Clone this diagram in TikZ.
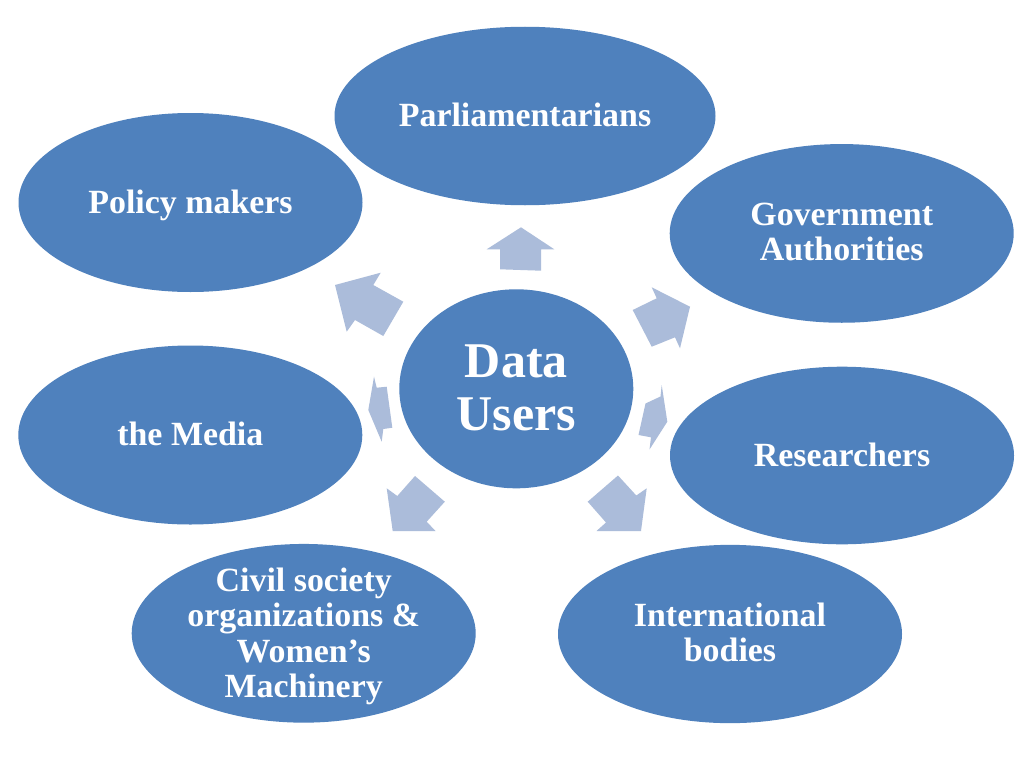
\documentclass[tikz,border=0pt]{standalone}
\usepackage{fontspec}
\setmainfont{Liberation Serif}
\usetikzlibrary{shapes.geometric}
\definecolor{ellblue}{HTML}{4F81BD}
\definecolor{arrblue}{HTML}{ABBCDA}
\begin{document}
\begin{tikzpicture}[x=1pt,y=-1pt,
  ell/.style={ellipse,fill=ellblue,draw=none,inner sep=0pt,outer sep=0pt},
  outer/.style={ell,minimum width=344pt,minimum height=179pt},
  lbl/.style={text=white,font=\bfseries\fontsize{33.9}{35.2}\selectfont,align=center,anchor=base,inner sep=0pt},
  bigl/.style={text=white,font=\bfseries\fontsize{50}{53.3}\selectfont,align=center,anchor=base,inner sep=0pt},
  arr/.style={fill=arrblue,draw=none}]
\useasboundingbox (0,0) rectangle (1024,768);
\fill[white] (0,0) rectangle (1024,768);
% arrows
\fill[arr] (521,227.3) -- (554.3,249.3) -- (541,249.3) -- (541,270.7) -- (500,269.3) -- (500,249.3) -- (486.7,249.3) -- cycle;
\fill[arr] (335,285) -- (380.7,272.7) -- (373.3,285) -- (403.3,301.7) -- (383.3,336) -- (355,320) -- (346.7,331.7) -- cycle;
\fill[arr] (651.7,287.3) -- (690,306.7) -- (680,348.3) -- (675,337.3) -- (651.7,346.7) -- (632.7,310) -- (656.7,298.3) -- cycle;
\fill[arr] (374,376.7) -- (376.7,387.7) -- (386.7,386.7) -- (392.3,427.7) -- (383.3,429) -- (381.7,441.7) -- (368.3,410) -- cycle;
\fill[arr] (661.7,385) -- (667.3,421.7) -- (649.5,449.5) -- (651,437.3) -- (638.5,435) -- (645.5,403.5) -- (660.5,396.5) -- cycle;
\fill[arr] (386.7,488.3) -- (397.3,496) -- (415,476) -- (444.8,501.7) -- (426.7,521.7) -- (435.5,531) -- (392.7,531) -- cycle;
\fill[arr] (646.7,488.3) -- (636.3,495.5) -- (618,475.5) -- (587.7,501.7) -- (606,522.5) -- (596.5,531) -- (641,531) -- cycle;
% ellipses
\node[ell,minimum width=381pt,minimum height=178.5pt] (parl) at (525,116) {};
\node[outer] (pm) at (190.5,202.5) {};
\node[outer,minimum height=178.7pt] (gov) at (841.7,233.4) {};
\node[outer] (med) at (190.3,435) {};
\node[outer,minimum height=177.6pt] (res) at (842,455.5) {};
\node[outer,minimum width=344pt,minimum height=178.7pt] (civ) at (303.7,633.3) {};
\node[outer,minimum height=178.3pt] (intl) at (730,634) {};
\node[ell,minimum width=234pt,minimum height=199pt] (du) at (516.3,388.8) {};
% labels (base = baseline of the last line)
\node[lbl] (tparl) at (525,126.7) {Parliamentarians};
\node[lbl] (tpm) at (190.5,213) {Policy makers};
\node[lbl] (tgov) at (841.7,260.7) {Government\\Authorities};
\node[lbl] (tmed) at (190.3,445) {the Media};
\node[lbl] (tres) at (842,466) {Researchers};
\node[lbl] (tciv) at (303.7,697.3) {Civil society\\organizations \&\\Women’s\\Machinery};
\node[lbl] (tintl) at (730,661.7) {International\\bodies};
\node[bigl] (tdu) at (516.3,430.7) {Data\\Users};
\end{tikzpicture}
\end{document}
